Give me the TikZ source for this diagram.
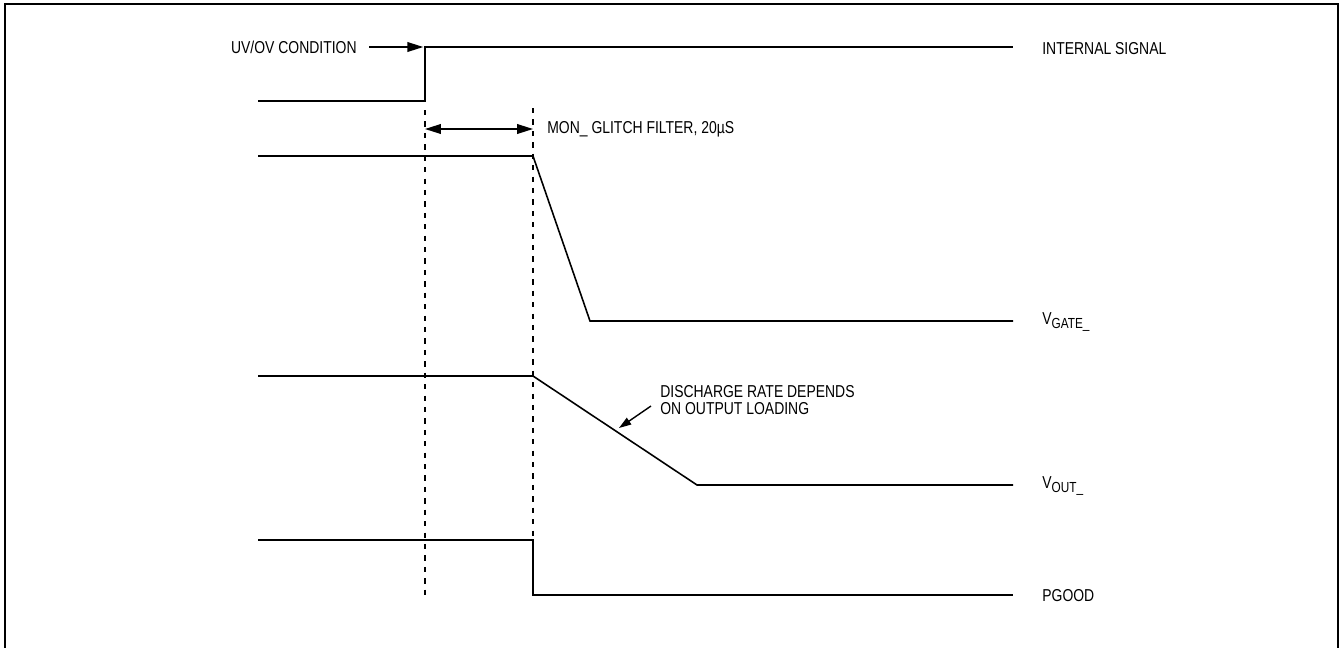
\documentclass[tikz,border=0pt]{standalone}
\usepackage{fontspec}
\setmainfont[FakeStretch=0.81]{Liberation Sans}
\usetikzlibrary{arrows.meta}

\begin{document}
\begin{tikzpicture}[x=0.02cm,y=-0.02cm,
  wave/.style={line width=0.9pt},
  guide/.style={line width=0.7pt,dash pattern=on 3pt off 3.5pt},
  lbl/.style={font=\fontsize{9.8}{10}\selectfont,inner sep=0pt,anchor=west},
  tip/.style={-{Triangle[length=9pt,width=5.5pt]},line width=0.8pt}]
\useasboundingbox (0,0) rectangle (1340,647);
% frame (open at the bottom)
\draw[line width=1.2pt] (5,700) -- (5,4) -- (1338,4) -- (1338,700);

% Internal signal
\coordinate (rise) at (425,47);
\draw[wave] (258,101) -- (425,101) -- (rise) -- (1013,47);
\node[lbl] (intsig) at (1042,49) {INTERNAL SIGNAL};
\node[lbl,anchor=east] (uvov) at (357,47) {UV/OV CONDITION};
\draw[tip,shorten <=7pt,shorten >=1pt] (uvov.east) -- (rise);

% Glitch filter window
\coordinate (trip) at (533,156);
\draw[guide] (425,110) -- (425,598);
\draw[guide] (533,108) -- (533,540);
\draw[{Triangle[length=9pt,width=5.5pt]}-{Triangle[length=9pt,width=5.5pt]},line width=0.8pt]
  (425,129) -- (533,129);
\node[lbl] (filt) at (547,129) {MON\_ GLITCH FILTER, 20µS};

% V_GATE
\draw[wave] (258,156) -- (trip) -- (590,321) -- (1013,321);
\node[lbl] (vgate) at (1042,322) {V\raisebox{-0.45ex}{\fontsize{8.3}{9}\selectfont GATE\_}};

% V_OUT
\draw[wave] (258,376) -- (533,376) -- (697,485) -- (1013,485);
\node[lbl] (vout) at (1042,486) {V\raisebox{-0.45ex}{\fontsize{8.3}{9}\selectfont OUT\_}};
\node[lbl,align=left,font=\fontsize{9.8}{9.6}\selectfont] (dis) at (660,400) {DISCHARGE RATE DEPENDS\\ON OUTPUT LOADING};
\coordinate (slope) at (619,428);
\draw[-{Triangle[length=7pt,width=4.5pt]},line width=0.8pt] (651,406) -- (slope);

% PGOOD
\draw[wave] (258,540) -- (533,540) -- (533,595) -- (1013,595);
\node[lbl] (pgood) at (1042,596) {PGOOD};
\end{tikzpicture}
\end{document}
